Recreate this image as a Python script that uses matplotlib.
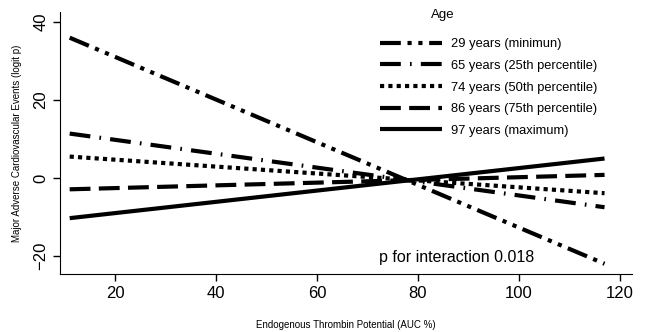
import numpy as np
import matplotlib
matplotlib.use('Agg')
import matplotlib.pyplot as plt

plt.rcParams['font.family'] = ['Liberation Sans', 'DejaVu Sans']

# endpoints of the fitted lines (ETP %, logit p)
etp = [11, 117]
labels = ['29 years (minimun)', '65 years (25th percentile)', '74 years (50th percentile)',
          '86 years (75th percentile)', '97 years (maximum)']
y_start = [36.0, 11.4, 5.5, -2.9, -10.3]
y_end = [-22.0, -7.5, -3.9, 0.8, 5.0]

styles = [(0, (5, 1.6, 1, 1.6, 1, 1.6)),
          (0, (5, 2.2, 0.4, 2.2)),
          (0, (1, 1)),
          (0, (5, 2)),
          '-']

fig = plt.figure(figsize=(6.46, 3.32), dpi=100)
ax = fig.add_axes([0.093, 0.175, 0.885, 0.789])

for lab, a, b, ls in zip(labels, y_start, y_end, styles):
    ax.plot(etp, [a, b], color='black', lw=3, linestyle=ls, label=lab,
            solid_capstyle='butt', dash_capstyle='butt')

ax.set_xlim(9.1, 122.4)
ax.set_ylim(-24.6, 42.6)
ax.set_xticks([20, 40, 60, 80, 100, 120])
ax.set_yticks([-20, 0, 20, 40])
ax.tick_params(labelsize=12, direction='out', length=5, width=1)
for t in ax.get_yticklabels():
    t.set_rotation(90)
    t.set_va('center')
ax.spines['top'].set_visible(False)
ax.spines['right'].set_visible(False)

ax.set_xlabel('Endogenous Thrombin Potential (AUC %)', fontsize=7, labelpad=14)
ax.set_ylabel('Major Adverse Cardiovascular Events (logit p)', fontsize=7, labelpad=8)

# legend title placed by hand (it sits left of the legend centre)
fig.text(443 / 646, 1 - 15 / 332, 'Age', fontsize=9.5, ha='center', va='center')
leg = fig.legend(loc='upper left', bbox_to_anchor=(380 / 646, 1 - 38 / 332),
                 bbox_transform=fig.transFigure, frameon=False, fontsize=9.3,
                 handlelength=4.8, handletextpad=0.7, labelspacing=0.75,
                 borderpad=0, borderaxespad=0)

ax.text(72.3, -20.3, 'p for interaction 0.018', fontsize=11.5, va='center')

fig.savefig('out.png', dpi=100)
